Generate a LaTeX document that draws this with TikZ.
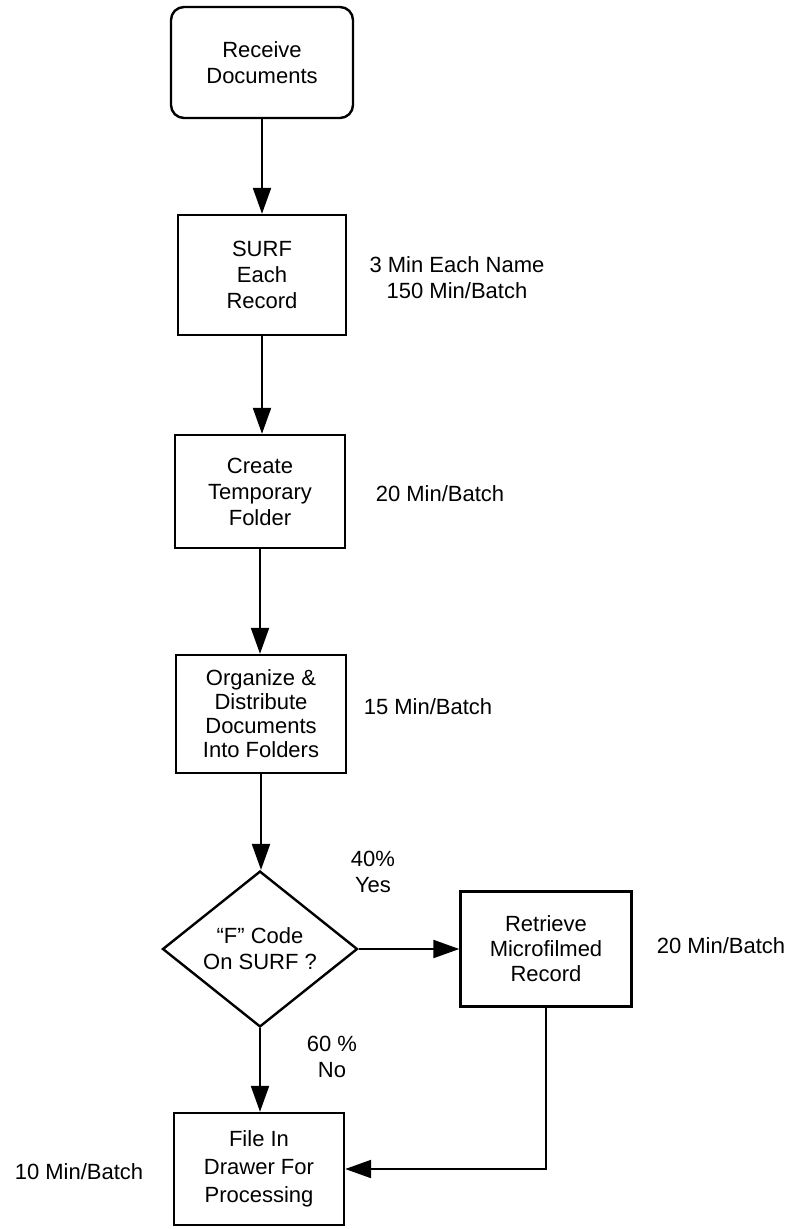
\documentclass[tikz,border=0pt]{standalone}
\usepackage{fontspec}
\setmainfont{Liberation Sans}
\usetikzlibrary{arrows.meta,shapes.geometric}
\begin{document}
\begin{tikzpicture}[x=1pt,y=-1pt,
  every node/.style={font=\fontsize{22}{26}\selectfont},
  box/.style={draw, line width=2.4pt, minimum width=170pt, minimum height=115pt, align=center, inner sep=0pt},
  decision/.style={diamond, draw, line width=2.4pt, minimum width=195pt, minimum height=149pt, inner sep=0pt, align=center},
  flow/.style={line width=2.2pt, -{Triangle[length=26pt,width=18pt]}},
  lbl/.style={align=center, inner sep=0pt}
]
\useasboundingbox (0,0) rectangle (795,1229);

\node[box, rounded corners=13pt, minimum width=182pt, minimum height=111pt] (recv) at (262,62.5) {Receive\\Documents};
\node[box, minimum width=168pt, minimum height=120pt] (surf) at (262,275) {SURF\\Each\\Record};
\node[box, minimum height=113pt] (create) at (260,491.5) {Create\\Temporary\\Folder};
\node[box, minimum height=118pt, font=\fontsize{22}{24}\selectfont] (org) at (261,714) {Organize \&\\Distribute\\Documents\\Into Folders};
\node[decision] (dec) at (260,949) {“F” Code\\On SURF ?};
\node[box, minimum width=171pt, minimum height=115pt, font=\fontsize{22}{25}\selectfont] (ret) at (546,949) {Retrieve\\Microfilmed\\Record};
\node[box, minimum height=112pt, font=\fontsize{22}{28}\selectfont] (file) at (259,1169) {File In\\Drawer For\\Processing};

\node[lbl] (t1) at (457,278) {3 Min Each Name\\150 Min/Batch};
\node[lbl] (t2) at (440,494) {20 Min/Batch};
\node[lbl] (t3) at (428,707) {15 Min/Batch};
\node[lbl] (t4) at (373,872) {40\%\\Yes};
\node[lbl] (t5) at (721,946) {20 Min/Batch};
\node[lbl] (t6) at (332,1057) {60 \%\\No};
\node[lbl] (t7) at (79,1172) {10 Min/Batch};

\draw[flow] (recv.south -| surf.north) -- (surf.north);
\draw[flow] (surf.south) -- (surf.south |- create.north);
\draw[flow] (create.south) -- (create.south |- org.north);
\draw[flow] (org.south) -- (org.south |- dec.north);
\draw[flow] (dec.east) -- (ret.west);
\draw[flow] (dec.south) -- (dec.south |- file.north);
\draw[flow] (ret.south) |- (file.east);
\end{tikzpicture}
\end{document}
